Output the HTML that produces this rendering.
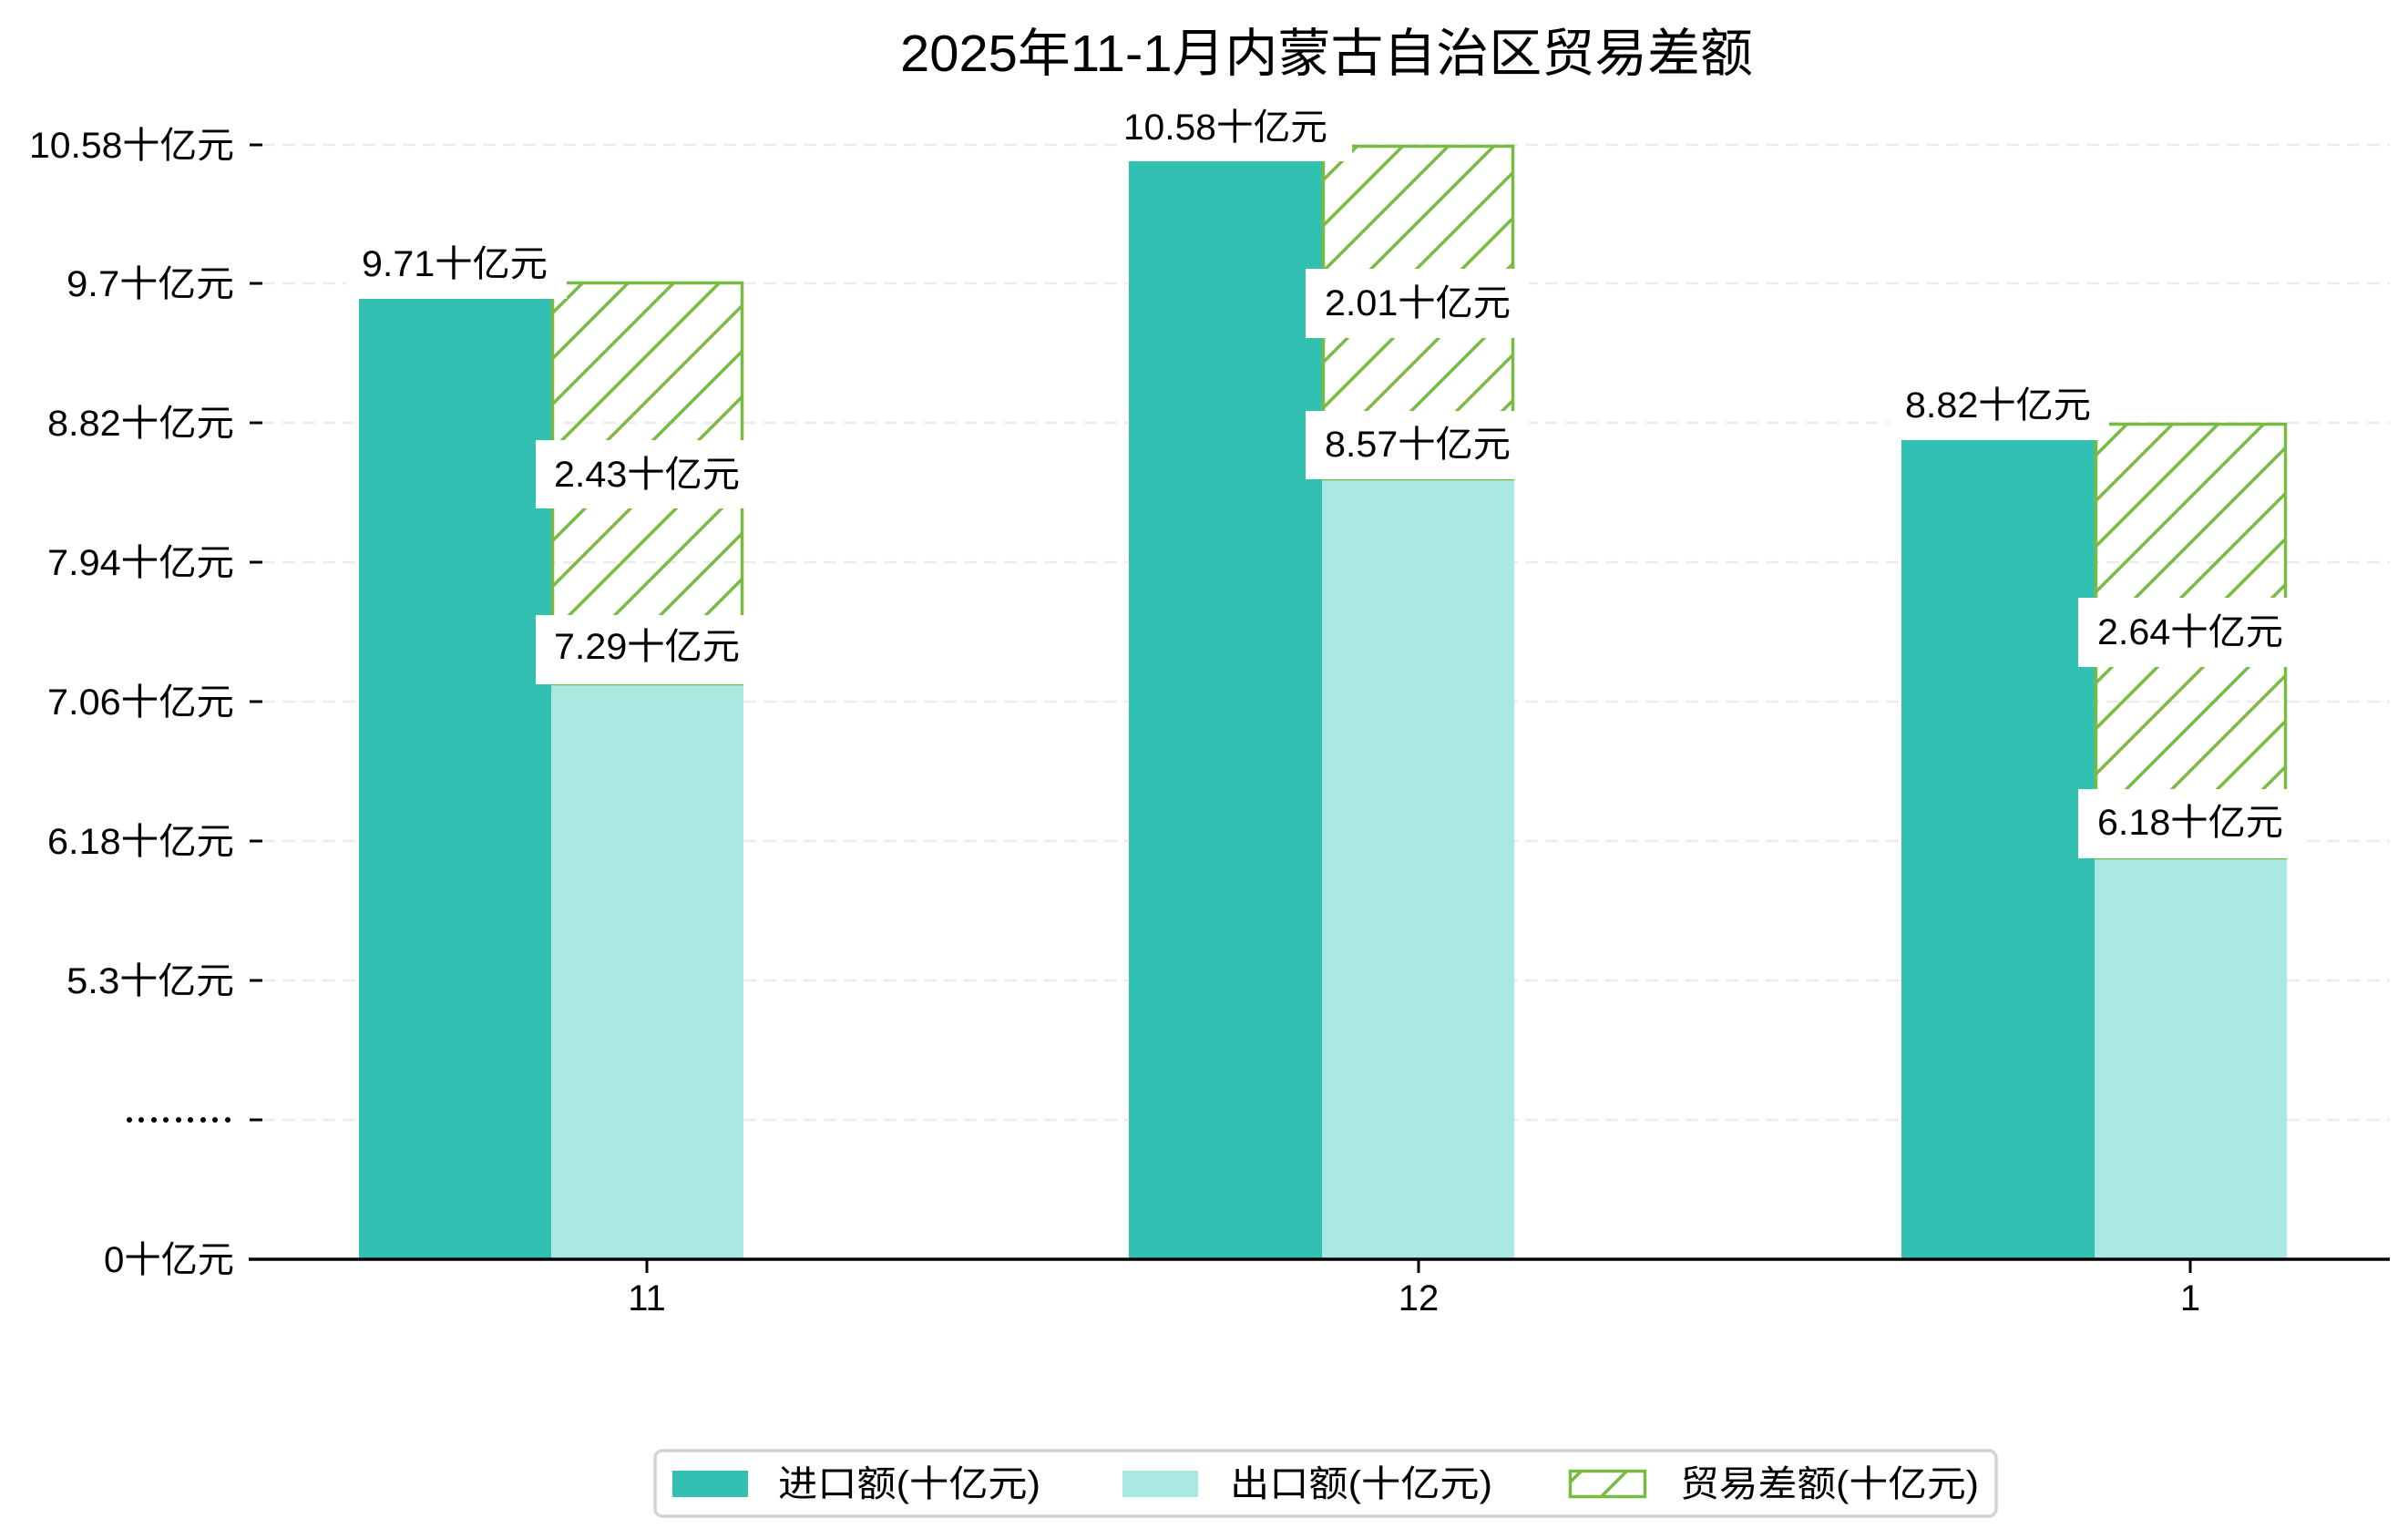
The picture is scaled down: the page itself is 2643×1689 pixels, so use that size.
<!DOCTYPE html>
<html><head><meta charset="utf-8"><style>
html,body{margin:0;padding:0;background:#fff;}
svg{display:block;}
text{font-family:"Liberation Sans","Noto Sans CJK SC","WenQuanYi Zen Hei",sans-serif;fill:#000;}
</style></head><body>
<svg width="2643" height="1689" viewBox="0 0 2643 1689" xmlns="http://www.w3.org/2000/svg">
<defs>
<pattern id="h" patternUnits="userSpaceOnUse" width="50" height="50">
<path d="M-5,55 L55,-5 M-30,30 L30,-30 M20,80 L80,20" stroke="#78bb42" stroke-width="3.5"/>
</pattern>
</defs>
<rect width="2643" height="1689" fill="#fff"/>
<text x="1456" y="78" font-size="57" text-anchor="middle" textLength="936" lengthAdjust="spacingAndGlyphs">2025年11-1月内蒙古自治区贸易差额</text>
<g stroke="#ececec" stroke-width="2.5" stroke-dasharray="14,8">
<line x1="288" x2="2623" y1="159" y2="159"/>
<line x1="288" x2="2623" y1="311" y2="311"/>
<line x1="288" x2="2623" y1="464" y2="464"/>
<line x1="288" x2="2623" y1="617" y2="617"/>
<line x1="288" x2="2623" y1="770" y2="770"/>
<line x1="288" x2="2623" y1="923" y2="923"/>
<line x1="288" x2="2623" y1="1076" y2="1076"/>
<line x1="288" x2="2623" y1="1229" y2="1229"/>
</g>
<g stroke="#000" stroke-width="3">
<line x1="274" x2="288" y1="159" y2="159"/>
<line x1="274" x2="288" y1="311" y2="311"/>
<line x1="274" x2="288" y1="464" y2="464"/>
<line x1="274" x2="288" y1="617" y2="617"/>
<line x1="274" x2="288" y1="770" y2="770"/>
<line x1="274" x2="288" y1="923" y2="923"/>
<line x1="274" x2="288" y1="1076" y2="1076"/>
<line x1="274" x2="288" y1="1229" y2="1229"/>
</g>
<g font-size="40" text-anchor="end">
<text x="257" y="173" textLength="225" lengthAdjust="spacingAndGlyphs">10.58十亿元</text>
<text x="257" y="325" textLength="184" lengthAdjust="spacingAndGlyphs">9.7十亿元</text>
<text x="257" y="478" textLength="205" lengthAdjust="spacingAndGlyphs">8.82十亿元</text>
<text x="257" y="631" textLength="205" lengthAdjust="spacingAndGlyphs">7.94十亿元</text>
<text x="257" y="784" textLength="205" lengthAdjust="spacingAndGlyphs">7.06十亿元</text>
<text x="257" y="937" textLength="205" lengthAdjust="spacingAndGlyphs">6.18十亿元</text>
<text x="257" y="1090" textLength="184" lengthAdjust="spacingAndGlyphs">5.3十亿元</text>
<text x="257" y="1396" textLength="143" lengthAdjust="spacingAndGlyphs">0十亿元</text>
</g>
<g fill="#000">
<circle cx="142" cy="1229" r="3"/><circle cx="155" cy="1229" r="3"/><circle cx="169" cy="1229" r="3"/><circle cx="182" cy="1229" r="3"/><circle cx="196" cy="1229" r="3"/><circle cx="209" cy="1229" r="3"/><circle cx="223" cy="1229" r="3"/><circle cx="236" cy="1229" r="3"/><circle cx="250" cy="1229" r="3"/>
</g>

<rect x="394" y="328" width="211" height="1054" fill="#32c0b2"/>
<rect x="605" y="751" width="211" height="631" fill="#aae8e2"/>
<rect x="606.5" y="310.5" width="208" height="440" fill="url(#h)" stroke="#78bb42" stroke-width="3.5"/>
<rect x="1239" y="177" width="212" height="1205" fill="#32c0b2"/>
<rect x="1451" y="526" width="211" height="856" fill="#aae8e2"/>
<rect x="1452.5" y="160.5" width="208" height="365" fill="url(#h)" stroke="#78bb42" stroke-width="3.5"/>
<rect x="2087" y="483" width="212" height="899" fill="#32c0b2"/>
<rect x="2299" y="942" width="211" height="440" fill="#aae8e2"/>
<rect x="2300.5" y="465.5" width="208" height="476" fill="url(#h)" stroke="#78bb42" stroke-width="3.5"/>

<g fill="#fff">
<rect x="381" y="252" width="241" height="76"/>
<rect x="588" y="483" width="245" height="75"/>
<rect x="588" y="675" width="245" height="76"/>
<rect x="1226" y="101" width="258" height="76"/>
<rect x="1433" y="295" width="245" height="76"/>
<rect x="1433" y="451" width="245" height="75"/>
<rect x="2074" y="407" width="241" height="76"/>
<rect x="2281" y="656" width="245" height="76"/>
<rect x="2281" y="866" width="245" height="76"/>
</g>
<g font-size="40" text-anchor="middle">
<text x="499" y="303" textLength="204" lengthAdjust="spacingAndGlyphs">9.71十亿元</text>
<text x="710" y="534" textLength="204" lengthAdjust="spacingAndGlyphs">2.43十亿元</text>
<text x="710" y="723" textLength="204" lengthAdjust="spacingAndGlyphs">7.29十亿元</text>
<text x="1345" y="153" textLength="224" lengthAdjust="spacingAndGlyphs">10.58十亿元</text>
<text x="1556" y="346" textLength="204" lengthAdjust="spacingAndGlyphs">2.01十亿元</text>
<text x="1556" y="501" textLength="204" lengthAdjust="spacingAndGlyphs">8.57十亿元</text>
<text x="2193" y="458" textLength="204" lengthAdjust="spacingAndGlyphs">8.82十亿元</text>
<text x="2404" y="707" textLength="204" lengthAdjust="spacingAndGlyphs">2.64十亿元</text>
<text x="2404" y="916" textLength="204" lengthAdjust="spacingAndGlyphs">6.18十亿元</text>
</g>

<line x1="273" x2="2623" y1="1382" y2="1382" stroke="#000" stroke-width="3.5"/>
<g stroke="#000" stroke-width="3">
<line x1="710" x2="710" y1="1382" y2="1397"/>
<line x1="1557" x2="1557" y1="1382" y2="1397"/>
<line x1="2404" x2="2404" y1="1382" y2="1397"/>
</g>
<g font-size="40" text-anchor="middle">
<text x="710" y="1438">11</text>
<text x="1557" y="1438">12</text>
<text x="2404" y="1438">1</text>
</g>

<rect x="719" y="1592" width="1472" height="72" rx="8" fill="#fff" stroke="#d3d3d3" stroke-width="3.5"/>
<rect x="738" y="1614" width="83" height="29" fill="#32c0b2"/>
<rect x="1232" y="1614" width="83" height="29" fill="#aae8e2"/>
<rect x="1723.5" y="1614.5" width="82" height="28" fill="url(#h)" stroke="#78bb42" stroke-width="3.5"/>
<g font-size="40">
<text x="854" y="1642" textLength="288" lengthAdjust="spacingAndGlyphs">进口额(十亿元)</text>
<text x="1350" y="1642" textLength="288" lengthAdjust="spacingAndGlyphs">出口额(十亿元)</text>
<text x="1844" y="1642" textLength="328" lengthAdjust="spacingAndGlyphs">贸易差额(十亿元)</text>
</g>
</svg>
</body></html>
